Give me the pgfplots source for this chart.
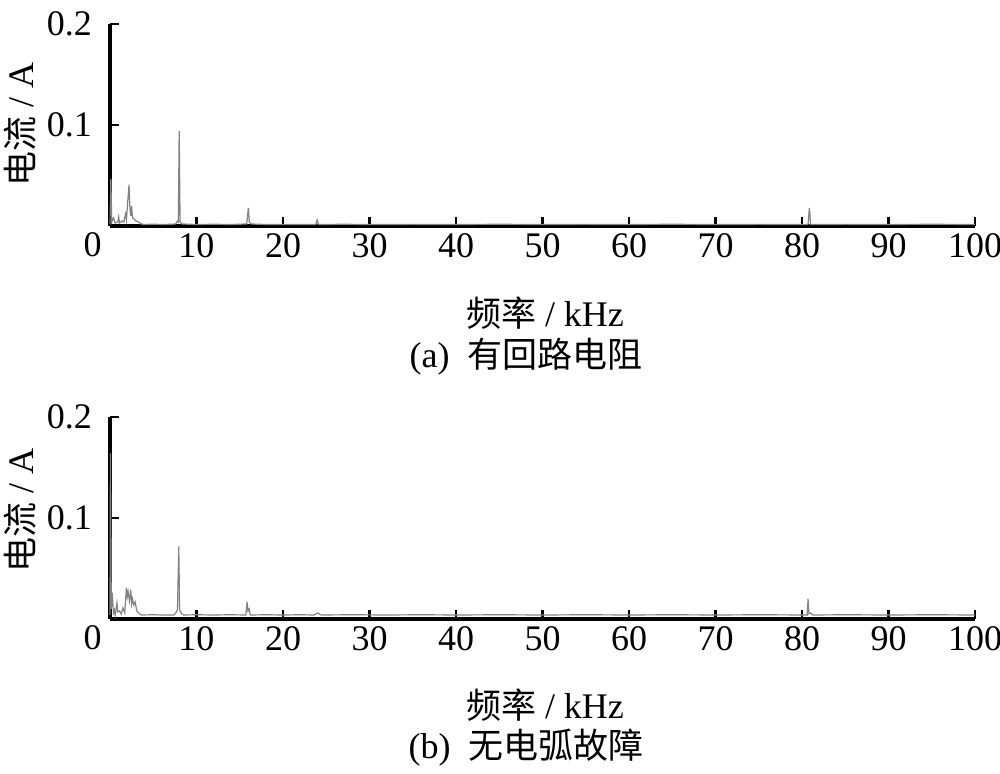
\documentclass[border=0pt]{standalone}
\usepackage{fontspec}
\setmainfont{Liberation Serif}
\newfontfamily\cjk{Noto Sans CJK SC}
\usepackage{pgfplots}
\pgfplotsset{compat=1.18}
\definecolor{spec}{RGB}{130,130,130}
\newcommand\fs{\fontsize{18}{21}\selectfont}
\newcommand\cj[1]{{\cjk\fontsize{17.5}{20}\selectfont #1}}
\pgfplotsset{
  spectrum/.style={
    scale only axis, width=432.5pt, height=101pt,
    xmin=0, xmax=100, ymin=0, ymax=0.2,
    axis lines=left, axis line style={-, line width=1.7pt},
    tick align=inside, major tick length=4.5pt,
    every tick/.style={black, line width=1.3pt},
    xtick={10,20,...,100}, ytick={0.1,0.2},
    yticklabels={0.1,0.2},
    /pgf/number format/assume math mode=true,
    tick label style={font=\fs},
    xticklabel style={yshift=0pt},
    yticklabel style={xshift=-5.5pt},
    clip=false,
  }
}
\begin{document}
\begin{tikzpicture}
\useasboundingbox (-55pt,-273.5pt) rectangle (445pt,113pt);
\begin{axis}[spectrum, at={(0pt,0pt)}, anchor=south west]
\addplot[spec, line width=0.6pt] coordinates {
(0,0.002)(0.1,0.047)(0.2,0.004)(0.4,0.008)(0.6,0.003)(0.9,0.004)(1.0,0.009)(1.1,0.003)
(1.4,0.005)(1.6,0.004)(1.8,0.012)(1.9,0.006)(2.1,0.030)(2.2,0.041)(2.3,0.018)(2.4,0.010)
(2.5,0.020)(2.6,0.008)(2.8,0.007)(3.0,0.005)(3.3,0.004)(3.6,0.002)(4,0.0015)(5,0.0018)
(6,0.0015)(7,0.0017)(7.6,0.002)(7.8,0.005)(7.9,0.004)(8.0,0.094)(8.1,0.004)(8.3,0.002)
(10,0.0015)(12,0.0017)(14,0.0015)(15.8,0.002)(16.0,0.018)(16.1,0.004)(16.3,0.002)
(18,0.0015)(20,0.0016)(22,0.0015)(23.8,0.0015)(23.95,0.006)(24.1,0.0015)(27,0.0017)
(30,0.0015)(35,0.0016)(40,0.0015)(45,0.0017)(50,0.0015)(55,0.0016)(60,0.0015)(65,0.0017)
(70,0.0015)(75,0.0016)(80.7,0.0015)(80.85,0.018)(81.0,0.0015)(85,0.0016)(90,0.0015)
(95,0.0017)(100,0.0015)
};
\end{axis}
\node[anchor=north east, font=\fs, inner sep=0pt] at (-4pt,-3pt) {0};
\node[rotate=90, font=\fs] at (-45pt,51pt) {\cj{电流} / A};
\node[font=\fs] at (217.5pt,-43.5pt) {\cj{频率} / kHz};
\node[font=\fs] at (208pt,-65.5pt) {(a)\ \ \cj{有回路电阻}};

\begin{axis}[spectrum, at={(0pt,-196.5pt)}, anchor=south west]
\addplot[spec, line width=0.6pt] coordinates {
(0,0.004)(0.05,0.164)(0.15,0.010)(0.25,0.026)(0.4,0.006)(0.5,0.009)(0.6,0.004)(0.8,0.016)
(0.9,0.007)(1.1,0.008)(1.3,0.005)(1.5,0.011)(1.7,0.006)(1.9,0.031)(2.0,0.022)(2.1,0.027)
(2.25,0.018)(2.4,0.029)(2.5,0.015)(2.6,0.020)(2.75,0.014)(2.9,0.017)(3.1,0.008)(3.3,0.006)
(3.6,0.004)(5,0.0042)(6,0.004)(7.4,0.004)(7.6,0.006)(7.8,0.009)(7.95,0.072)(8.05,0.009)
(8.3,0.005)(8.5,0.004)(10,0.0042)(12,0.004)(14,0.0042)(15.7,0.004)(15.85,0.017)(15.95,0.008)
(16.1,0.010)(16.2,0.004)(18,0.0042)(20,0.004)(22,0.0042)(23.6,0.004)(24,0.006)(24.4,0.004)
(28,0.0042)(32,0.004)(36,0.0042)(40,0.004)(45,0.0042)(50,0.004)(55,0.0042)(60,0.004)
(65,0.0042)(70,0.004)(75,0.0042)(80.6,0.004)(80.7,0.020)(80.8,0.005)(81.0,0.006)(81.2,0.004)
(85,0.0042)(90,0.004)(95,0.0042)(100,0.004)
};
\end{axis}
\node[anchor=north east, font=\fs, inner sep=0pt] at (-4pt,-199.5pt) {0};
\node[rotate=90, font=\fs] at (-45pt,-142pt) {\cj{电流} / A};
\node[font=\fs] at (217.5pt,-239.5pt) {\cj{频率} / kHz};
\node[font=\fs] at (208pt,-261pt) {(b)\ \ \cj{无电弧故障}};
\end{tikzpicture}
\end{document}
